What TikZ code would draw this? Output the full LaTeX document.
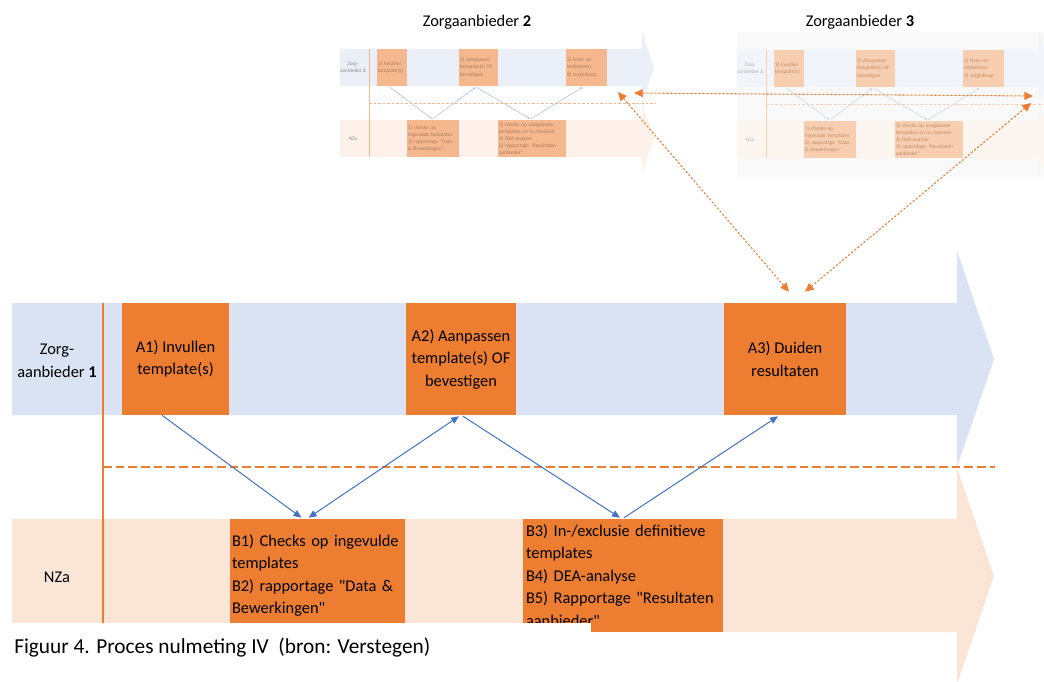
\documentclass[tikz,border=0pt]{standalone}
\usepackage{fontspec}
\setmainfont{Carlito}
\usetikzlibrary{arrows.meta}
\definecolor{laneblue}{HTML}{DAE3F3}
\definecolor{lanepeach}{HTML}{FBE5D6}
\definecolor{boxor}{HTML}{ED7D31}
\definecolor{lineblue}{HTML}{4472C4}
\newcommand\mainfs{\fontsize{12.3}{16.9}\selectfont}
\newcommand\tinyfs{\fontsize{4}{5.3}\selectfont}
\newcommand\dq{\XeTeXglyph\XeTeXcharglyph"22\relax}
\tikzset{
  mainbox/.style={fill=boxor, inner sep=0pt, align=center, font=\mainfs},
  lanelbl/.style={align=center, font=\mainfs, inner sep=0pt},
  flow/.style={lineblue, line width=0.75pt, -{Triangle[length=6pt,width=5pt]}},
  flowboth/.style={lineblue, line width=0.75pt, {Triangle[length=6pt,width=5pt]}-{Triangle[length=6pt,width=5pt]}},
  link/.style={boxor, line width=0.8pt, dash pattern=on 1.6pt off 1.4pt,
    {Triangle[length=6.5pt,width=6pt]}-{Triangle[length=6.5pt,width=6pt]}},
  sbox/.style 2 args={fill=boxor!#1!white, text=black!#2!boxor!70!white, inner xsep=0.75pt, inner ysep=0pt,
    font=\tinyfs, align=left, minimum height=27.75pt},
  slbl/.style={font=\tinyfs, align=center, inner sep=0pt},
  sflow/.style={lineblue!#1!white, line width=0.4pt, -{Triangle[length=1.8pt,width=1.6pt]}},
}
% small faded copy of the process diagram; #1 name suffix, #2 fill fade, #3 text/line fade
\newcommand\smalldiag[3]{%
  \fill[laneblue!#2!white] (340,49) -- (642,49) -- (642,31) -- (654,67.5) -- (642,104) -- (642,86) -- (340,86) -- cycle;
  \fill[lanepeach!#2!white] (340,120) -- (642,120) -- (642,103) -- (654,138.5) -- (642,174) -- (642,157) -- (340,157) -- cycle;
  \draw[boxor!#2!white, line width=0.4pt] (369,49) -- (369,157);
  \draw[boxor!#2!white, line width=0.6pt, dash pattern=on 2pt off 1.4pt] (369,103.5) -- (656,103.5);
  \node[slbl, text=black!#3!white] (s#1l1) at (353,67.5) {Zorg-\\aanbieder \textbf{#1}};
  \node[slbl, text=black!#3!white] (s#1l2) at (353,138.5) {NZa};
  \node[sbox={#2}{#3}, text width=21pt] (s#1a1) at (392,67.5) {1) Invullen\\template(s)};
  \node[sbox={#2}{#3}, text width=27.75pt] (s#1a2) at (478.5,67.5) {2) Aanpassen\\template(s) OF\\bevestigen};
  \node[sbox={#2}{#3}, text width=29.25pt] (s#1a3) at (586.5,67.5) {3) leren en\\verbeteren\\4) zorginkoop};
  \node[sbox={#2}{#3}, text width=37.5pt] (s#1b1) at (433,138.5) {1) checks op\\ingevulde templates\\2) rapportage \dq Data\\\& Bewerkingen\dq};
  \node[sbox={#2}{#3}, text width=49.5pt] (s#1b2) at (532,138.5) {3) checks op aangepaste\\templates en in-/exclusie\\4) DEA-analyse\\5) rapportage \dq Resultaten\\aanbieder\dq};
  \draw[sflow=#3] ([shift={(-2,1)}]s#1a1.south) -- ([shift={(-1,-1)}]s#1b1.north);
  \draw[sflow=#3] ([shift={(0,-1)}]s#1b1.north) -- ([shift={(-3,1)}]s#1a2.south);
  \draw[sflow=#3] ([shift={(-2,1)}]s#1a2.south) -- ([shift={(-2,-1)}]s#1b2.north);
  \draw[sflow=#3] ([shift={(-1,-1)}]s#1b2.north) -- ([shift={(-4,1)}]s#1a3.south);
}
\begin{document}
\begin{tikzpicture}[x=0.75pt,y=-0.75pt]
\useasboundingbox (0,0) rectangle (1044,681);
\clip (0,0) rectangle (1044,681);
\fill[white] (0,0) rectangle (1044,681);

% ---------- small diagram 2 ----------
\node[font=\mainfs, inner sep=0pt] (t2) at (477,22) {Zorgaanbieder \textbf{2}};
\smalldiag{2}{55}{45}

% ---------- small diagram 3 ----------
\node[font=\mainfs, inner sep=0pt] (t3) at (860,22) {Zorgaanbieder \textbf{3}};
\fill[black!2.5] (737,32) rectangle (1044,177);
\begin{scope}[shift={(397,1)}]
\smalldiag{3}{38}{30}
\end{scope}

% ---------- main diagram ----------
\fill[laneblue] (12,303) -- (957,303) -- (957,251) -- (994,359) -- (957,467) -- (957,415) -- (12,415) -- cycle;
\fill[lanepeach] (12,519) -- (957,519) -- (957,468) -- (994,576) -- (957,684) -- (957,632) -- (12,632) -- cycle;
\draw[boxor, line width=0.9pt] (103,303) -- (103,632);
\draw[boxor, line width=1.5pt, dash pattern=on 6.5pt off 3pt] (103,467) -- (995,467);

\node[lanelbl] (zl1) at (57,361) {Zorg-\\aanbieder \textbf{1}};
\node[lanelbl] (nza) at (57,577) {NZa};

\node[mainbox, minimum width=80.25pt, minimum height=84pt] (a1) at (175.5,359) {A1) Invullen\\template(s)};
\node[mainbox, minimum width=82.5pt, minimum height=84pt] (a2) at (461,359) {A2) Aanpassen\\template(s) OF\\bevestigen};
\node[mainbox, minimum width=91.5pt, minimum height=84pt] (a3) at (785,359) {A3) Duiden\\resultaten};

\node[mainbox, align=left, text width=128.25pt, inner xsep=1.5pt, minimum height=84.75pt] (b1) at (317.5,575.5)
  {B1) Checks op ingevulde\\templates\\B2) rapportage \dq Data \&\\Bewerkingen\dq};
\node[mainbox, align=left, text width=145.5pt, inner xsep=2.25pt, minimum height=84.75pt] (b3) at (623,575.5)
  {B3) In-/exclusie definitieve\\templates\\B4) DEA-analyse\\B5) Rapportage \dq Resultaten\\aanbieder\dq};

% caption area covers the lower left
\fill[white] (0,623) rectangle (591,681);
\node[anchor=west, inner sep=0pt, font=\fontsize{16}{19}\selectfont] (cap) at (14,648)
  {Figuur 4. Proces nulmeting IV\ \ (bron: Verstegen)};

% flow connectors
\draw[flow] ([shift={(-13.5,0)}]a1.south) -- ([shift={(-16,-1)}]b1.north);
\draw[flowboth] ([shift={(-9,-1)}]b1.north) -- ([shift={(-2,1)}]a2.south);
\draw[flow] ([shift={(2,1)}]a2.south) -- ([shift={(-3,-1)}]b3.north);
\draw[flow] ([shift={(1,-1)}]b3.north) -- ([shift={(-7,1)}]a3.south);

% links to the other providers
\coordinate (d2p) at (618,92);
\coordinate (d2h) at (634,93);
\coordinate (d3h) at (1033,96);
\coordinate (d3p) at (1031,103);
\draw[link] ([shift={(4,-11)}]a3.north) -- (d2p);
\draw[link] ([shift={(20,-11)}]a3.north) -- (d3p);
\draw[link] (d2h) -- (d3h);
\end{tikzpicture}
\end{document}
